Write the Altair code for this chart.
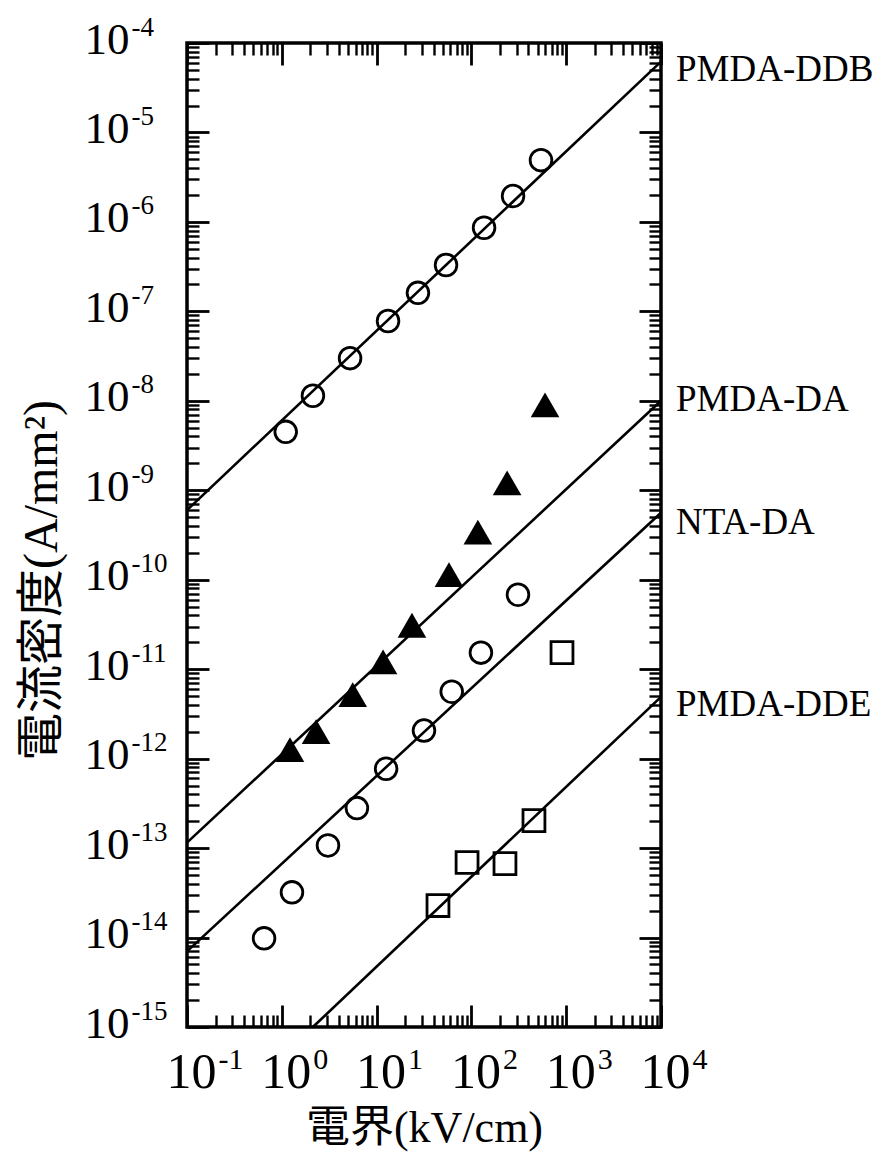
import altair as alt
import pandas as pd

# ---------------- data ----------------
series_names = ["PMDA-DDB", "PMDA-DA", "NTA-DA", "PMDA-DDE"]

ddb_x = [1.1, 2.13, 5.25, 13.2, 27.3, 54, 136, 275, 542]
ddb_y = [4.5e-9, 1.14e-8, 3.0e-8, 7.8e-8, 1.61e-7, 3.3e-7, 8.6e-7, 1.95e-6, 4.9e-6]

da_x = [1.22, 2.3, 5.6, 11.7, 23.6, 58, 117, 238, 598]
da_y = [1.26e-12, 2.0e-12, 5.2e-12, 1.21e-11, 3.1e-11, 1.14e-10, 3.4e-10, 1.21e-9, 9.0e-9]

nta_x = [0.65, 1.28, 3.07, 6.2, 12.6, 31.6, 62, 126, 310]
nta_y = [9.8e-15, 3.2e-14, 1.07e-13, 2.8e-13, 7.7e-13, 2.06e-12, 5.6e-12, 1.53e-11, 6.8e-11]

dde_x = [44.4, 90, 226, 457, 903]
dde_y = [2.28e-14, 6.9e-14, 6.7e-14, 2.03e-13, 1.53e-11]

# fitted straight lines (start / end points)
fit_x0 = [0.1, 0.1, 0.1, 2.13]
fit_y0 = [6.0e-10, 1.15e-13, 7.0e-15, 1.0e-15]
fit_x1 = [1e4, 1e4, 1e4, 1e4]
fit_y1 = [6.2e-5, 1.0e-8, 5.6e-10, 4.9e-12]

# series labels at the right edge
label_x = [1e4, 1e4, 1e4, 1e4]
label_y = [5.0e-5, 1.02e-8, 4.3e-10, 4.0e-12]

# axis ticks
x_decades = [-1, 0, 1, 2, 3, 4]
y_decades = list(range(-15, -3))
x_major = [10.0 ** d for d in x_decades]
y_major = [10.0 ** d for d in y_decades]
x_minor = [k * 10.0 ** d for d in x_decades[:-1] for k in range(2, 10)]
y_minor = [k * 10.0 ** d for d in y_decades[:-1] for k in range(2, 10)]

x_title = "電界(kV/cm)"
y_title = "電流密度(A/mm²)"

# ---------------- tables ----------------
pts_ddb = pd.DataFrame({"x": ddb_x, "y": ddb_y})
pts_da = pd.DataFrame({"x": da_x, "y": da_y})
pts_nta = pd.DataFrame({"x": nta_x, "y": nta_y})
pts_dde = pd.DataFrame({"x": dde_x, "y": dde_y})

lines = pd.DataFrame({
    "series": series_names * 2,
    "x": fit_x0 + fit_x1,
    "y": fit_y0 + fit_y1,
})
labels = pd.DataFrame({"series": series_names, "x": label_x, "y": label_y})

# ---------------- styling ----------------
W, H = 474, 984
FONT = "Liberation Serif, 'Noto Sans CJK JP', serif"

xs = alt.Scale(type="log", domain=[0.1, 1e4], nice=False)
ys = alt.Scale(type="log", domain=[1e-15, 1e-4], nice=False)

EXP = "'' + round(log(datum.value) / LN10)"

common_lbl = dict(domain=False, grid=False, ticks=False, tickSize=0,
                  labelFont=FONT, labelColor="black", labelOverlap=False,
                  labelFlush=False, labelBound=False)

x_base = alt.Axis(orient="bottom", values=x_major, labelExpr="'10'",
                  labelFontSize=50, labelAlign="center", labelBaseline="middle",
                  labelPadding=45, labelOffset=4,
                  title=x_title, titleFont=FONT, titleFontSize=44,
                  titleFontWeight="normal", titleColor="black",
                  titleX=W / 2, titleY=101, titleAlign="center",
                  titleBaseline="middle", **common_lbl)
x_exp = alt.Axis(orient="bottom", values=x_major, labelExpr=EXP,
                 labelFontSize=30, labelAlign="left", labelBaseline="middle",
                 labelPadding=32, labelOffset=31, title="", **common_lbl)
y_base = alt.Axis(orient="left", values=y_major, labelExpr="'10'",
                  labelFontSize=45, labelAlign="left", labelBaseline="middle",
                  labelPadding=103, labelOffset=-4,
                  title=y_title, titleFont=FONT, titleFontSize=48,
                  titleFontWeight="normal", titleColor="black",
                  titleX=-145, titleY=537, titleAngle=270, titleAlign="center",
                  titleBaseline="middle", **common_lbl)
y_exp = alt.Axis(orient="left", values=y_major, labelExpr=EXP,
                 labelFontSize=27, labelAlign="left", labelBaseline="middle",
                 labelPadding=56, labelOffset=-16, title="", **common_lbl)


def tick_axis(orient, offset, values, size, width):
    return alt.Axis(orient=orient, offset=offset, values=values, labels=False,
                    domain=False, grid=False, ticks=True, tickSize=size,
                    tickWidth=width, tickColor="black", title="")


MAJ, MIN = 22, 12
x_bot_major = tick_axis("top", -H, x_major, MAJ, 2.8)
x_bot_minor = tick_axis("top", -H, x_minor, MIN, 2.4)
x_top_major = tick_axis("bottom", -H, x_major, MAJ, 2.8)
x_top_minor = tick_axis("bottom", -H, x_minor, MIN, 2.4)
y_left_major = tick_axis("right", -W, y_major, MAJ, 2.8)
y_left_minor = tick_axis("right", -W, y_minor, MIN, 2.4)
y_right_major = tick_axis("left", -W, y_major, MAJ, 2.8)
y_right_minor = tick_axis("left", -W, y_minor, MIN, 2.4)


def enc(xa, ya):
    return dict(x=alt.X("x:Q", scale=xs, axis=xa),
                y=alt.Y("y:Q", scale=ys, axis=ya))


line_layer = alt.Chart(lines).mark_line(color="black", strokeWidth=2.6).encode(
    detail="series:N", **enc(x_base, y_base))

ddb_layer = alt.Chart(pts_ddb).mark_point(
    shape="circle", filled=False, color="black", strokeWidth=2.8, size=470, opacity=1
).encode(**enc(x_exp, y_exp))

da_layer = alt.Chart(pts_da).mark_point(
    shape="triangle-up", filled=True, color="black", size=820, opacity=1
).encode(**enc(x_bot_major, y_left_major))

nta_layer = alt.Chart(pts_nta).mark_point(
    shape="circle", filled=False, color="black", strokeWidth=2.8, size=470, opacity=1
).encode(**enc(x_bot_minor, y_left_minor))

dde_layer = alt.Chart(pts_dde).mark_point(
    shape="square", filled=False, color="black", strokeWidth=2.8, size=480, opacity=1
).encode(**enc(x_top_major, y_right_major))

label_layer = alt.Chart(labels).mark_text(
    align="left", baseline="middle", dx=15, font=FONT, fontSize=37, color="black"
).encode(text="series:N", **enc(x_top_minor, y_right_minor))

chart = alt.layer(
    line_layer, ddb_layer, da_layer, nta_layer, dde_layer, label_layer
).resolve_axis(
    x="independent", y="independent"
).properties(
    width=W, height=H,
    autosize=alt.AutoSizeParams(type="none"),
    padding={"left": 187, "top": 43, "right": 883 - 187 - W, "bottom": 1159 - 43 - H},
    background="white",
).configure_view(
    stroke="black", strokeWidth=3.5
)

chart.save("out.html", embed_options={"renderer": "svg", "actions": False})
